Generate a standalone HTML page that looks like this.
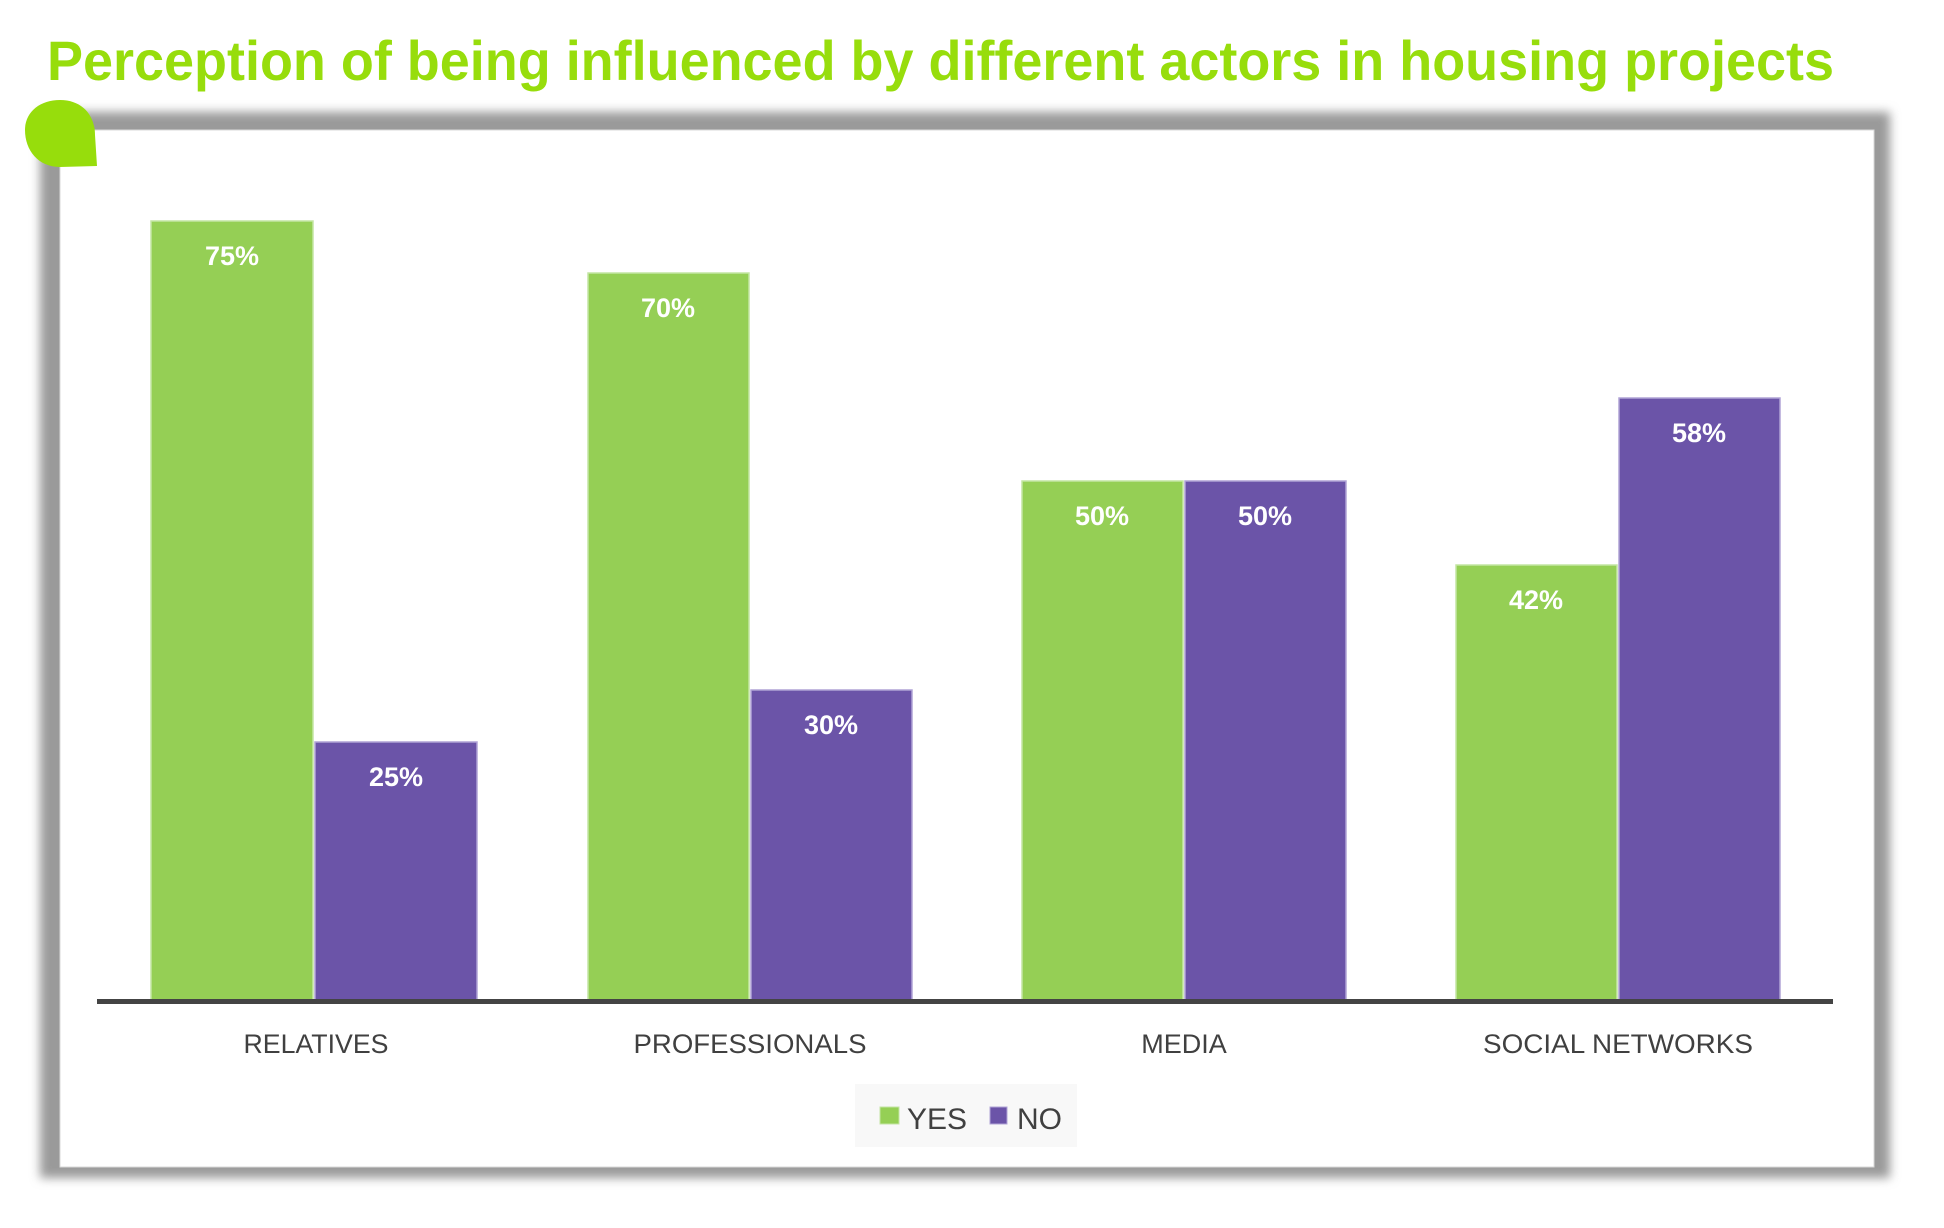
<!DOCTYPE html>
<html><head><meta charset="utf-8"><style>
html,body{margin:0;padding:0;background:#fff;}
svg{display:block;}
</style></head><body>
<svg width="1944" height="1228" viewBox="0 0 1944 1228" xmlns="http://www.w3.org/2000/svg">
<defs>
<filter id="sh" x="-5%" y="-5%" width="110%" height="110%">
<feGaussianBlur stdDeviation="5"/>
</filter>
</defs>
<text x="47" y="80" font-family="Liberation Sans, sans-serif" font-weight="bold" font-size="56" fill="#97dd0c" textLength="1787" lengthAdjust="spacingAndGlyphs">Perception of being influenced by different actors in housing projects</text>
<rect x="40" y="112" width="1850" height="1066" fill="#9a9a9a" filter="url(#sh)"/>
<rect x="60" y="130" width="1814" height="1037" fill="#fff" stroke="#d8d8d8" stroke-width="1"/>
<path d="M97,166 L60,167 C38,167 25,150 25,130 C25,112 40,100 60,100 C82,100 95,115 95,135 Z" fill="#97dd0c"/>
<g stroke-width="1.5">
<rect x="151" y="221" width="162" height="781" fill="#95cf55" stroke="#c4e5a4"/>
<rect x="315" y="742" width="162" height="260" fill="#6b54a8" stroke="#b0a3d6"/>
<rect x="588" y="273" width="161" height="729" fill="#95cf55" stroke="#c4e5a4"/>
<rect x="751" y="690" width="161" height="312" fill="#6b54a8" stroke="#b0a3d6"/>
<rect x="1022" y="481" width="161" height="521" fill="#95cf55" stroke="#c4e5a4"/>
<rect x="1185" y="481" width="161" height="521" fill="#6b54a8" stroke="#b0a3d6"/>
<rect x="1456" y="565" width="161" height="437" fill="#95cf55" stroke="#c4e5a4"/>
<rect x="1619" y="398" width="161" height="604" fill="#6b54a8" stroke="#b0a3d6"/>
</g>
<g font-family="Liberation Sans, sans-serif" font-weight="bold" font-size="27" fill="#fff" text-anchor="middle">
<text x="232" y="265">75%</text>
<text x="396" y="786">25%</text>
<text x="668" y="317">70%</text>
<text x="831" y="734">30%</text>
<text x="1102" y="525">50%</text>
<text x="1265" y="525">50%</text>
<text x="1536" y="609">42%</text>
<text x="1699" y="442">58%</text>
</g>
<rect x="97" y="999" width="1736" height="5" fill="#444"/>
<g font-family="Liberation Sans, sans-serif" font-size="27" fill="#404040" text-anchor="middle">
<text x="316" y="1053" textLength="145" lengthAdjust="spacingAndGlyphs">RELATIVES</text>
<text x="750" y="1053" textLength="233" lengthAdjust="spacingAndGlyphs">PROFESSIONALS</text>
<text x="1184" y="1053">MEDIA</text>
<text x="1618" y="1053" textLength="270" lengthAdjust="spacingAndGlyphs">SOCIAL NETWORKS</text>
</g>
<rect x="855" y="1084" width="222" height="63" fill="#f8f8f8"/>
<rect x="880" y="1107" width="19" height="17" fill="#95cf55" stroke="#c4e5a4"/>
<rect x="990" y="1107" width="17" height="17" fill="#6b54a8" stroke="#b0a3d6"/>
<g font-family="Liberation Sans, sans-serif" font-size="30" fill="#404040">
<text x="907" y="1129">YES</text>
<text x="1017" y="1129">NO</text>
</g>
</svg>
</body></html>
